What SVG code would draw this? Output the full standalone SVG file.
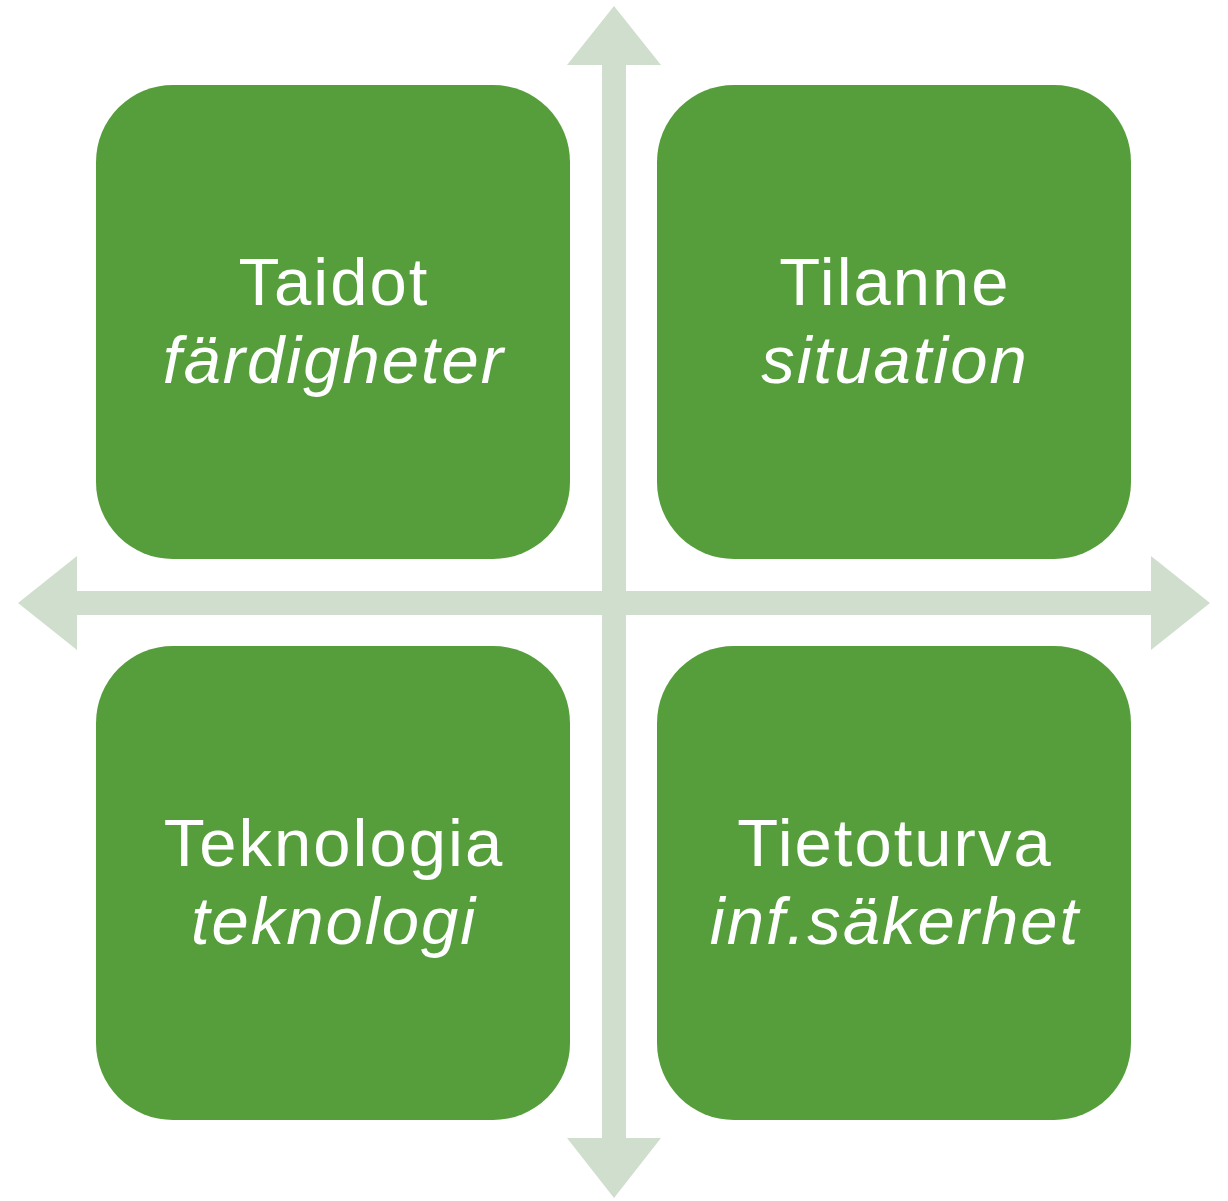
<svg xmlns="http://www.w3.org/2000/svg" width="1228" height="1201" viewBox="0 0 1228 1201">
<style>
.box{fill:#559E3B}
.axis{fill:#D0DFCD}
.t{font-family:"Liberation Sans",Arial,sans-serif;font-size:67px;fill:#fff;text-anchor:middle;letter-spacing:2px}
.i{font-style:italic}
</style>
<rect width="1228" height="1201" fill="#fff"/>
<g id="connectors">
<polygon class="axis" points="602,65 567,65 614,6 661,65 626,65 626,591 1151,591 1151,556 1210,603 1151,650 1151,615 626,615 626,1138 661,1138 614,1198 567,1138 602,1138 602,615 77,615 77,650 18,603 77,556 77,591 602,591"/>
</g>
<g id="taidot">
<rect class="box" x="96" y="85" width="474" height="474" rx="77"/>
<text class="t" x="334" y="305">Taidot</text>
<text class="t i" x="334" y="383">färdigheter</text>
</g>
<g id="tilanne">
<rect class="box" x="657" y="85" width="474" height="474" rx="77"/>
<text class="t" x="895" y="305">Tilanne</text>
<text class="t i" x="895" y="383">situation</text>
</g>
<g id="teknologia">
<rect class="box" x="96" y="646" width="474" height="474" rx="77"/>
<text class="t" x="334" y="866">Teknologia</text>
<text class="t i" x="334" y="944">teknologi</text>
</g>
<g id="tietoturva">
<rect class="box" x="657" y="646" width="474" height="474" rx="77"/>
<text class="t" x="895" y="866">Tietoturva</text>
<text class="t i" x="895" y="944">inf.säkerhet</text>
</g>
</svg>
